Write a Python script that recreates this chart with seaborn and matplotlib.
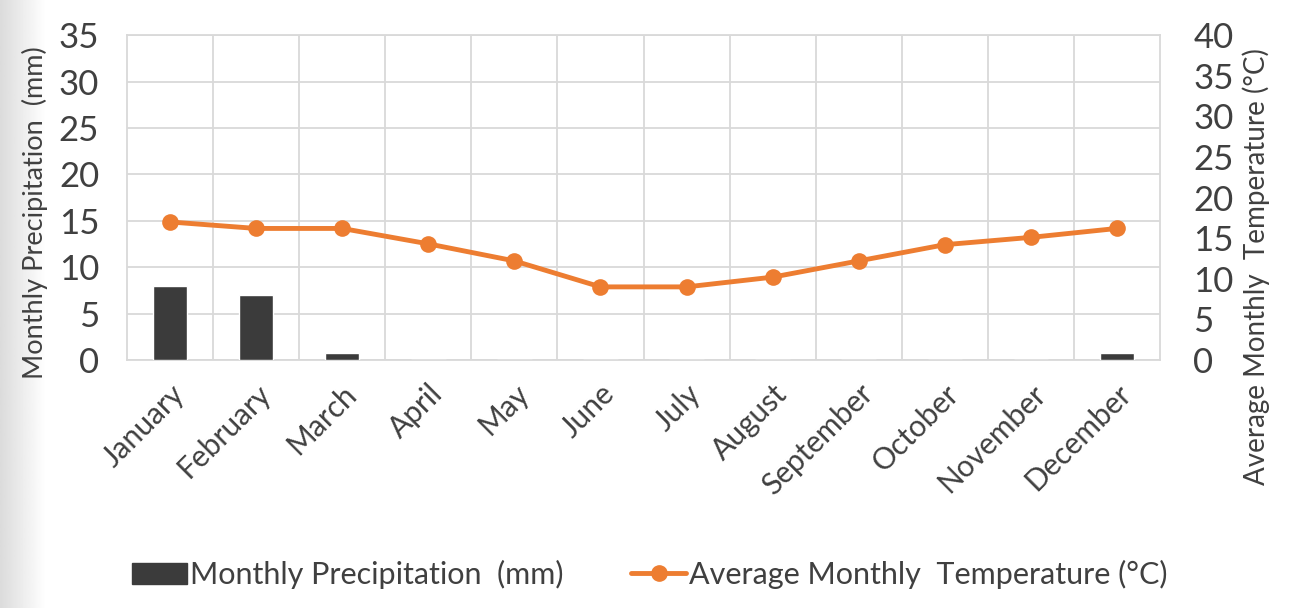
import numpy as np
import pandas as pd
import matplotlib
matplotlib.use("Agg")
import matplotlib.pyplot as plt
import seaborn as sns
from matplotlib.lines import Line2D
from matplotlib.patches import Patch

# data
months = ["January", "February", "March", "April", "May", "June", "July",
          "August", "September", "October", "November", "December"]
precip_mm = [8, 7, 0.8, 0, 0, 0, 0, 0, 0, 0, 0, 0.8]
temp_c = [17, 16.2, 16.2, 14.3, 12.2, 9, 9, 10.2, 12.2, 14.2, 15.1, 16.2]

precip_ticks = [0, 5, 10, 15, 20, 25, 30, 35]
temp_ticks = [0, 5, 10, 15, 20, 25, 30, 35, 40]

df = pd.DataFrame({"Month": months, "Precip": precip_mm, "Temp": temp_c})
df["pos"] = np.arange(len(df))

sns.set_style("white")
plt.rcParams["font.family"] = ["Lato", "DejaVu Sans"]

text_col = "#404040"
grid_col = "#d9d9d9"
bar_col = "#3b3b3b"
line_col = "#ED7D31"

fig = plt.figure(figsize=(13, 6.08), dpi=100)

# faint shadow on the left edge like the screenshot
bg = fig.add_axes([0, 0, 0.035, 1], zorder=-5)
grad = np.linspace(0.86, 1.0, 50).reshape(1, -1)
bg.imshow(grad, aspect="auto", cmap="gray", vmin=0, vmax=1, extent=[0, 1, 0, 1])
bg.axis("off")

ax = fig.add_axes([0.0977, 0.408, 0.7946, 0.534])
sns.barplot(data=df, x="pos", y="Precip", color=bar_col, width=0.4,
            saturation=1, ax=ax, zorder=3)

ax.set_ylim(0, 35)
ax.set_yticks(precip_ticks)
ax.set_xlim(-0.5, len(months) - 0.5)
ax.set_xticks(df["pos"])
ax.set_xticklabels(months, rotation=45, ha="right", rotation_mode="anchor",
                   fontsize=21.5, color=text_col)
ax.tick_params(axis="x", length=0, pad=14)
ax.tick_params(axis="y", length=0, labelsize=25, labelcolor=text_col, pad=20)
ax.set_xlabel("")
ax.set_ylabel("")

# gridlines between categories and at every 5 mm
for b in np.arange(0.5, len(months) - 0.5, 1):
    ax.axvline(b, color=grid_col, lw=1.3, zorder=0)
ax.yaxis.grid(True, color=grid_col, lw=1.3)
ax.set_axisbelow(True)
for s in ax.spines.values():
    s.set_color(grid_col)
    s.set_linewidth(1.3)

ax2 = ax.twinx()
sns.lineplot(data=df, x="pos", y="Temp", color=line_col, lw=3.5, marker="o",
             markersize=12, markeredgewidth=0, ax=ax2, zorder=4)
ax2.set_ylim(0, 40)
ax2.set_yticks(temp_ticks)
ax2.tick_params(axis="y", length=0, labelsize=25, labelcolor=text_col, pad=24)
ax2.set_ylabel("")
ax2.set_xlabel("")
for s in ax2.spines.values():
    s.set_visible(False)

fig.text(0.027, 0.65, "Monthly Precipitation  (mm)", rotation=90,
         ha="center", va="center", fontsize=19.5, color=text_col)
fig.text(0.966, 0.562, "Average Monthly  Temperature (\u00b0C)", rotation=90,
         ha="center", va="center", fontsize=20, color=text_col)

handles = [Patch(facecolor=bar_col, edgecolor=bar_col),
           Line2D([0], [0], color=line_col, lw=3.5, marker="o", markersize=11)]
fig.legend(handles, ["Monthly Precipitation  (mm)", "Average Monthly  Temperature (\u00b0C)"],
           loc="center", bbox_to_anchor=(0.5, 0.055), ncol=2, frameon=False,
           fontsize=22, labelcolor=text_col, handlelength=1.8, handletextpad=0.1,
           columnspacing=2.2)

fig.savefig("out.png", dpi=100)
